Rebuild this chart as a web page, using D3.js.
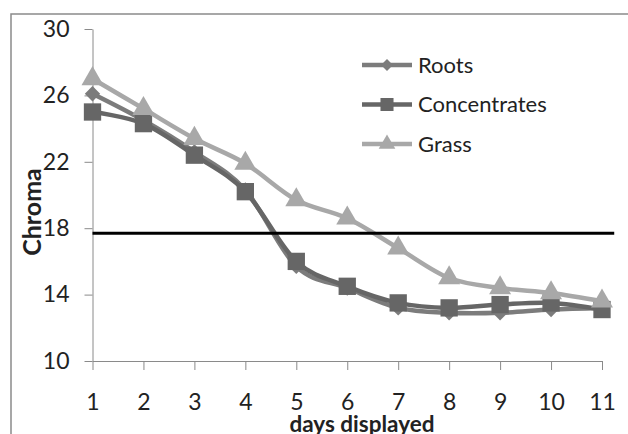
<!DOCTYPE html>
<html>
<head>
<meta charset="utf-8">
<script src="https://cdn.jsdelivr.net/npm/d3@7"></script>
<style>
  html, body { margin: 0; padding: 0; background: #fff; }
  #chart { width: 628px; height: 434px; overflow: hidden; }
  text { font-family: Lato, "Liberation Sans", sans-serif; fill: #222; }
</style>
</head>
<body>
<div id="chart"></div>
<script>
// data
var days = [1, 2, 3, 4, 5, 6, 7, 8, 9, 10, 11];
var roots = [26.1, 24.5, 22.6, 20.3, 15.7, 14.4, 13.2, 12.9, 12.9, 13.1, 13.2];
var concentrates = [25.0, 24.3, 22.4, 20.2, 16.0, 14.5, 13.5, 13.2, 13.4, 13.5, 13.1];
var grass = [27.0, 25.2, 23.4, 21.9, 19.7, 18.6, 16.8, 15.0, 14.4, 14.1, 13.6];
var yTicks = [10, 14, 18, 22, 26, 30];
var thresholdValue = 17.7;
var thresholdDays = [1, 11.24];

var seriesList = [
  {name: "Roots", values: roots, color: "#7c7c7c", symbol: d3.symbolDiamond2, size: 150, legSize: 90},
  {name: "Concentrates", values: concentrates, color: "#666666", symbol: d3.symbolSquare, size: 300, legSize: 170},
  {name: "Grass", values: grass, color: "#a8a8a8", symbol: d3.symbolTriangle, size: 210, legSize: 120}
];

var width = 628, height = 434;

var svg = d3.select("#chart").append("svg")
    .attr("width", width)
    .attr("height", height);

// outer frame, runs off the right and bottom edges
svg.append("rect")
    .attr("x", 11).attr("y", 14)
    .attr("width", 640).attr("height", 440)
    .attr("fill", "none")
    .attr("stroke", "#8a8a8a")
    .attr("stroke-width", 1.5);

var x = d3.scaleLinear().domain([1, 11]).range([92.5, 602]);
var y = d3.scaleLinear().domain([10, 30]).range([361, 29]);

// y axis
var yAxis = svg.append("g")
    .attr("transform", "translate(" + x(1) + ",0)")
    .call(d3.axisLeft(y).tickValues(yTicks).tickSize(8).tickSizeOuter(0).tickPadding(15));
yAxis.selectAll("path, line").attr("stroke", "#8a8a8a");
yAxis.selectAll("text")
    .style("font-size", "23px")
    .style("font-family", "Lato, 'Liberation Sans', sans-serif")
    .attr("fill", "#222");

// x axis
var xAxis = svg.append("g")
    .attr("transform", "translate(0," + y(10) + ")")
    .call(d3.axisBottom(x).tickValues(days).tickSize(9).tickSizeOuter(0).tickPadding(24).tickFormat(d3.format("d")));
xAxis.selectAll("path, line").attr("stroke", "#8a8a8a");
xAxis.selectAll("text")
    .style("font-size", "23px")
    .style("font-family", "Lato, 'Liberation Sans', sans-serif")
    .attr("fill", "#222");

// axis titles
svg.append("text")
    .attr("transform", "translate(41," + 212 + ") rotate(-90)")
    .attr("text-anchor", "middle")
    .style("font-size", "25px")
    .style("font-weight", "bold")
    .text("Chroma");

svg.append("text")
    .attr("x", 362).attr("y", 432)
    .attr("text-anchor", "middle")
    .style("font-size", "22.5px")
    .style("font-weight", "bold")
    .text("days displayed");

// series
var line = d3.line()
    .x(function(d, i) { return x(days[i]); })
    .y(function(d) { return y(d); })
    .curve(d3.curveCatmullRom.alpha(0));

seriesList.forEach(function(s) {
  var g = svg.append("g");
  g.append("path")
      .attr("d", line(s.values))
      .attr("fill", "none")
      .attr("stroke", s.color)
      .attr("stroke-width", 4.5);
  g.selectAll("path.mark")
      .data(s.values)
      .enter().append("path")
      .attr("class", "mark")
      .attr("transform", function(d, i) { return "translate(" + x(days[i]) + "," + y(d) + ")"; })
      .attr("d", d3.symbol().type(s.symbol).size(s.size))
      .attr("fill", s.color);
});

// threshold line
svg.append("line")
    .attr("x1", x(thresholdDays[0])).attr("x2", x(thresholdDays[1]))
    .attr("y1", y(thresholdValue)).attr("y2", y(thresholdValue))
    .attr("stroke", "#000")
    .attr("stroke-width", 3);

// legend
var legend = svg.append("g").attr("transform", "translate(362,65)");
seriesList.forEach(function(s, i) {
  var row = legend.append("g").attr("transform", "translate(0," + (i * 39.5) + ")");
  row.append("line")
      .attr("x1", 0).attr("x2", 50)
      .attr("stroke", s.color)
      .attr("stroke-width", 4.5);
  row.append("path")
      .attr("transform", "translate(25,0)")
      .attr("d", d3.symbol().type(s.symbol).size(s.legSize))
      .attr("fill", s.color);
  row.append("text")
      .attr("x", 56)
      .attr("dy", "0.35em")
      .style("font-size", "22px")
      .text(s.name);
});
</script>
</body>
</html>
